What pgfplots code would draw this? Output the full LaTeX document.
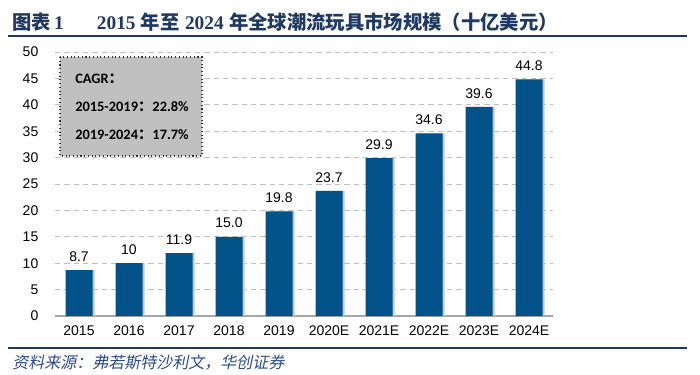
\documentclass[border=0pt]{standalone}
\usepackage{pgfplots}
\pgfplotsset{compat=1.18}
\usepackage{fontspec}
\setmainfont{Liberation Sans}
\newfontfamily\cjkfont{Noto Sans CJK SC}
\newfontfamily\tnrfont{Liberation Serif}
\newfontfamily\calfont{Carlito}
\newfontfamily\srcfont{Noto Sans CJK SC}[FakeSlant=0.2]
\definecolor{barblue}{RGB}{0,82,136}
\definecolor{titleblue}{RGB}{31,56,100}
\definecolor{srcblue}{RGB}{45,75,140}
\definecolor{gridgray}{RGB}{191,191,191}
\definecolor{axisgray}{RGB}{166,166,166}
\definecolor{boxgray}{RGB}{192,192,192}
\begin{document}
\begin{tikzpicture}
\path (0,0) rectangle (525pt,281.25pt);
\begin{axis}[
  at={(41.25pt,44.25pt)}, anchor=south west,
  scale only axis, width=373.5pt, height=198pt,
  xmin=-0.48, xmax=9.48, ymin=0, ymax=50,
  ytick={0,5,...,50},
  xtick={0,...,9},
  xticklabels={2015,2016,2017,2018,2019,2020E,2021E,2022E,2023E,2024E},
  axis y line*=left,
  y axis line style={draw=none},
  axis x line*=bottom,
  x axis line style={draw=axisgray, line width=0.9pt, -},
  major tick length=0pt,
  ymajorgrids,
  grid style={draw=gridgray, line width=0.7pt, dash pattern=on 4pt off 3pt},
  tick label style={font=\fontsize{10.5}{12}\selectfont},
  /pgf/number format/assume math mode=true,
  yticklabel style={xshift=-9pt},
  xticklabel style={yshift=-4pt},
  nodes near coords style={font=\fontsize{10.5}{12}\selectfont, yshift=3pt},
  clip=false,
]
\addplot[ybar, bar width=20.25pt, bar shift=1.6pt, fill=black!22, draw=none, forget plot]
  coordinates {(0,8.7) (1,10) (2,11.9) (3,15.0) (4,19.8) (5,23.7) (6,29.9) (7,34.6) (8,39.6) (9,44.8)};
\addplot[ybar, bar width=20.25pt, bar shift=0pt, fill=barblue, draw=none,
  point meta=explicit symbolic, nodes near coords]
  coordinates {(0,8.7)[8.7] (1,10)[10] (2,11.9)[11.9] (3,15.0)[15.0] (4,19.8)[19.8]
               (5,23.7)[23.7] (6,29.9)[29.9] (7,34.6)[34.6] (8,39.6)[39.6] (9,44.8)[44.8]};
\end{axis}
% CAGR box
\draw[fill=boxgray, draw=black!80, line width=0.8pt, dotted] (45pt,238.5pt) rectangle (151.5pt,164.25pt);
\node[anchor=west, inner sep=0pt, font=\fontsize{10.8}{12}\selectfont] at (56.25pt,222pt) {\calfont\bfseries CAGR{\cjkfont\bfseries ：}};
\node[anchor=west, inner sep=0pt, font=\fontsize{10.8}{12}\selectfont] at (56.25pt,201pt) {\calfont\bfseries 2015-2019{\cjkfont\bfseries ：}22.8\%};
\node[anchor=west, inner sep=0pt, font=\fontsize{10.8}{12}\selectfont] at (56.25pt,180pt) {\calfont\bfseries 2019-2024{\cjkfont\bfseries ：}17.7\%};
% title
\node[anchor=west, inner sep=0pt, text=titleblue, font=\fontsize{14.5}{16}\selectfont] at (9pt,264.5pt) {{\cjkfont\bfseries 图表}\,{\tnrfont\bfseries 1}};
\node[anchor=west, inner sep=0pt, text=titleblue, font=\fontsize{14.5}{16}\selectfont] at (72.5pt,264.5pt)
  {{\tnrfont\bfseries 2015} {\cjkfont\bfseries 年至} {\tnrfont\bfseries 2024} {\cjkfont\bfseries 年全球潮流玩具市场规模（十亿美元）}};
\draw[titleblue, line width=1.5pt] (6pt,254pt) -- (515pt,254pt);
% bottom
\draw[titleblue, line width=1.5pt] (6pt,20.5pt) -- (515pt,20.5pt);
\node[anchor=west, inner sep=0pt, text=srcblue, font=\fontsize{12}{14}\selectfont] at (9pt,9pt) {\srcfont 资料来源：弗若斯特沙利文，华创证券};
\end{tikzpicture}
\end{document}
